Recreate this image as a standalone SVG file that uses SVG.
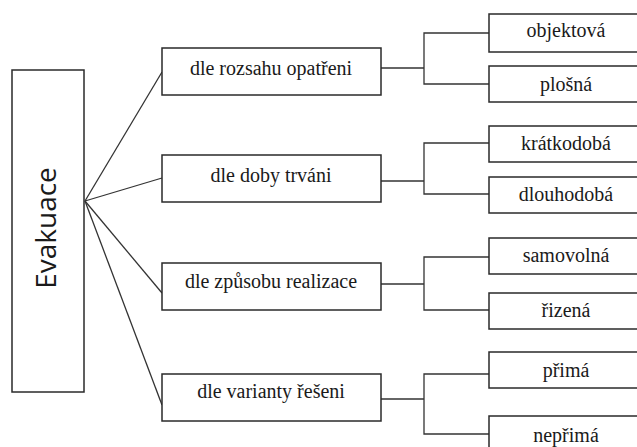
<svg xmlns="http://www.w3.org/2000/svg" width="637" height="447" viewBox="0 0 637 447">
  <style>
    .box { fill: #ffffff; stroke: #2a2a2a; stroke-width: 1.5; }
    .lbl { font-size: 20px; fill: #1a1a1a; text-anchor: middle; }
    .root { font-size: 28px; fill: #1a1a1a; text-anchor: middle; }
    .conn { fill: none; stroke: #333333; stroke-width: 1.3; }
  </style>
  <rect x="0" y="0" width="637" height="447" fill="#ffffff"/>

  <g id="connectors">
    <line class="conn" x1="85" y1="201" x2="162" y2="72"/>
    <line class="conn" x1="85" y1="201" x2="162" y2="178"/>
    <line class="conn" x1="85" y1="201" x2="162" y2="293"/>
    <line class="conn" x1="85" y1="201" x2="162" y2="405"/>
    <polyline class="conn" points="381,68 424,68"/>
    <polyline class="conn" points="489,33 424,33 424,84 489,84"/>
    <polyline class="conn" points="381,181 424,181"/>
    <polyline class="conn" points="489,143 424,143 424,194 489,194"/>
    <polyline class="conn" points="381,284 424,284"/>
    <polyline class="conn" points="489,257 424,257 424,310 489,310"/>
    <polyline class="conn" points="381,399 424,399"/>
    <polyline class="conn" points="489,374 424,374 424,434 489,434"/>
  </g>

  <g id="evakuace">
    <rect class="box" x="12" y="70" width="72" height="322"/>
    <text class="root" font-family="Open Sans, Noto Sans, sans-serif" transform="translate(56,228) rotate(-90)">Evakuace</text>
  </g>

  <g id="labels" font-family="Liberation Serif, DejaVu Serif, serif">
  <g id="rozsah">
    <rect class="box" x="162" y="48" width="219" height="47"/>
    <text class="lbl" x="271" y="75">dle rozsahu opatřeni</text>
  </g>
  <g id="doba">
    <rect class="box" x="162" y="155" width="219" height="47"/>
    <text class="lbl" x="271" y="182">dle doby trváni</text>
  </g>
  <g id="zpusob">
    <rect class="box" x="162" y="263" width="219" height="47"/>
    <text class="lbl" x="271" y="288">dle způsobu realizace</text>
  </g>
  <g id="varianta">
    <rect class="box" x="162" y="374" width="219" height="47"/>
    <text class="lbl" x="271" y="398">dle varianty řešeni</text>
  </g>

  <g id="objektova">
    <rect class="box" x="489" y="14" width="160" height="38"/>
    <text class="lbl" x="566" y="37">objektová</text>
  </g>
  <g id="plosna">
    <rect class="box" x="489" y="66" width="160" height="36"/>
    <text class="lbl" x="566" y="91">plošná</text>
  </g>
  <g id="kratkodoba">
    <rect class="box" x="489" y="126" width="160" height="36"/>
    <text class="lbl" x="566" y="150">krátkodobá</text>
  </g>
  <g id="dlouhodoba">
    <rect class="box" x="489" y="177" width="160" height="36"/>
    <text class="lbl" x="566" y="201">dlouhodobá</text>
  </g>
  <g id="samovolna">
    <rect class="box" x="489" y="238" width="160" height="36"/>
    <text class="lbl" x="566" y="262">samovolná</text>
  </g>
  <g id="rizena">
    <rect class="box" x="489" y="293" width="160" height="36"/>
    <text class="lbl" x="566" y="317">řizená</text>
  </g>
  <g id="prima">
    <rect class="box" x="489" y="352" width="160" height="36"/>
    <text class="lbl" x="566" y="377">přimá</text>
  </g>
  <g id="neprima">
    <rect class="box" x="489" y="416" width="160" height="40"/>
    <text class="lbl" x="566" y="442">nepřimá</text>
  </g>
  </g>
</svg>
